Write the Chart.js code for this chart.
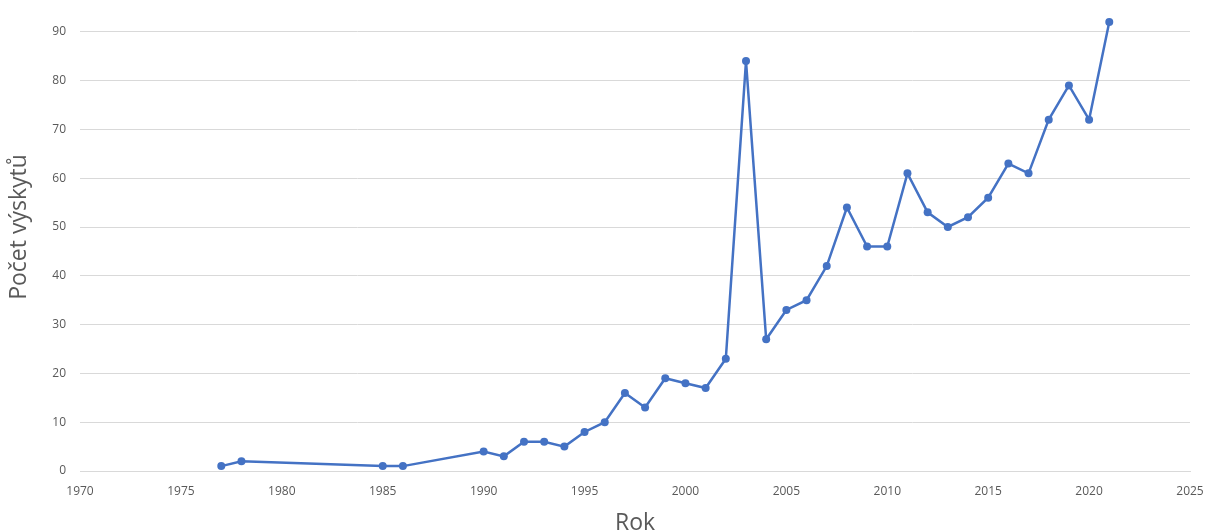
<!DOCTYPE html>
<html>
<head>
<meta charset="utf-8">
<script src="https://cdn.jsdelivr.net/npm/chart.js@4/dist/chart.umd.min.js"></script>
<style>
  html, body { margin: 0; padding: 0; background: #ffffff; overflow: hidden; }
  /* the 100 gridline sits just above the visible frame */
  #wrap { width: 1208px; height: 556px; margin-top: -21px; }
</style>
</head>
<body>
<div id="wrap"><canvas id="c" width="1208" height="556"></canvas></div>
<script>
// Počet výskytů podle roku
const years  = [1977, 1978, 1985, 1986, 1990, 1991, 1992, 1993, 1994, 1995, 1996, 1997, 1998, 1999,
                2000, 2001, 2002, 2003, 2004, 2005, 2006, 2007, 2008, 2009, 2010, 2011, 2012, 2013,
                2014, 2015, 2016, 2017, 2018, 2019, 2020, 2021];
const counts = [1, 2, 1, 1, 4, 3, 6, 6, 5, 8, 10, 16, 13, 19,
                18, 17, 23, 84, 27, 33, 35, 42, 54, 46, 46, 61, 53, 50,
                52, 56, 63, 61, 72, 79, 72, 92];

const xTitle = 'Rok';
const yTitle = 'Počet výskytů';
const xRange = [1970, 2025];
const yRange = [0, 100];

const points = years.map((y, i) => ({ x: y, y: counts[i] }));

const textGray = '#595959';
const gridGray = '#d9d9d9';
const blue = '#4472C4';

new Chart(document.getElementById('c'), {
  type: 'line',
  data: {
    datasets: [{
      data: points,
      borderColor: blue,
      backgroundColor: blue,
      borderWidth: 2.5,
      pointRadius: 4,
      pointBorderWidth: 0,
      pointBackgroundColor: blue,
      tension: 0,
      fill: false
    }]
  },
  options: {
    responsive: false,
    animation: false,
    layout: { padding: { top: 0, right: 18, bottom: 0, left: 0 } },
    plugins: { legend: { display: false }, tooltip: { enabled: false } },
    scales: {
      x: {
        type: 'linear',
        min: xRange[0],
        max: xRange[1],
        afterFit: s => { s.height = 64; s.paddingLeft = 0; s.paddingRight = 0; },
        ticks: {
          stepSize: 5,
          padding: 13,
          color: textGray,
          font: { family: '"Open Sans"', size: 12 },
          callback: v => String(v)
        },
        grid: { display: false, drawTicks: false },
        border: { display: true, color: gridGray, width: 1 },
        title: {
          display: true,
          text: xTitle,
          color: textGray,
          font: { family: '"Open Sans"', size: 23, lineHeight: 1 },
          padding: { top: 0, bottom: 0 }
        }
      },
      y: {
        min: yRange[0],
        max: yRange[1],
        afterFit: s => { s.width = 80; s.paddingTop = 0; s.paddingBottom = 0; },
        ticks: {
          stepSize: 10,
          padding: 14,
          color: textGray,
          font: { family: '"Open Sans"', size: 12 }
        },
        grid: { color: gridGray, lineWidth: 1, drawTicks: false },
        border: { display: false },
        title: {
          display: true,
          text: yTitle,
          color: textGray,
          font: { family: '"Open Sans"', size: 23, lineHeight: 1 },
          padding: { top: 8, bottom: 0 }
        }
      }
    }
  }
});
</script>
</body>
</html>
